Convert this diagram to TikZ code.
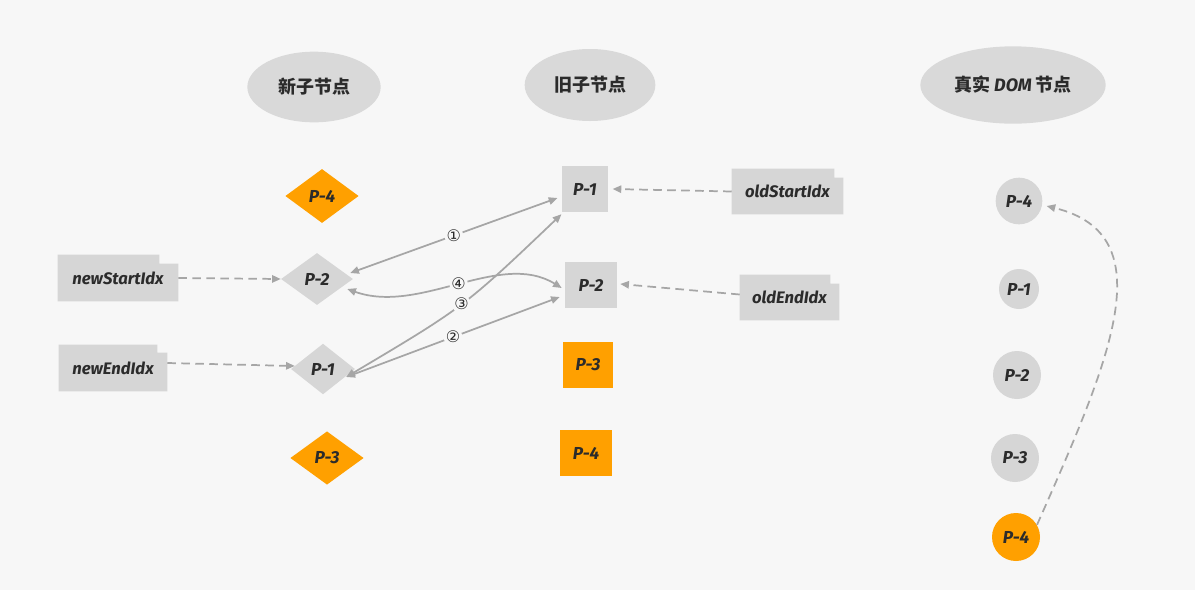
\documentclass[tikz,border=0pt]{standalone}
\usepackage{fontspec}
\setmainfont{Fira Sans}
\newfontfamily\cjk{Noto Sans CJK SC}
\newfontfamily\numfont{DejaVu Sans}
\usetikzlibrary{arrows.meta,shapes.geometric,backgrounds}

\definecolor{bg}{HTML}{F7F7F7}
\definecolor{boxgray}{HTML}{D6D6D6}
\definecolor{headgray}{HTML}{D9D9D9}
\definecolor{hot}{HTML}{FFA000}
\definecolor{ink}{HTML}{2B2B2B}
\definecolor{wire}{HTML}{A6A6A6}

% notched index tag drawn behind a text node: node, notch width, notch depth
\newcommand\tagshape[3]{%
  \fill[boxgray] (#1.south west) -- (#1.north west)
    -- ([xshift=-#2]#1.north east) -- ([xshift=-#2,yshift=-#3]#1.north east)
    -- ([yshift=-#3]#1.north east) -- (#1.south east) -- cycle;}

\tikzset{
  hand/.style={font=\fontsize{13}{15}\selectfont\bfseries\itshape, text=ink},
  head/.style={ellipse, fill=headgray, inner sep=0pt, text=ink,
    font=\fontsize{13.5}{16}\selectfont\cjk\bfseries},
  diam/.style={diamond, fill=boxgray, inner sep=0pt, hand},
  sq/.style={rectangle, fill=boxgray, inner sep=0pt, hand},
  dom/.style={circle, fill=boxgray, inner sep=0pt, hand},
  hotfill/.style={fill=hot},
  tagtext/.style={rectangle, inner sep=0pt,
    font=\fontsize{12.5}{14}\selectfont\bfseries\itshape, text=ink},
  link/.style={draw=wire, line width=1.3pt, {Triangle[length=6.5pt,width=5.5pt]}-{Triangle[length=6.5pt,width=5.5pt]}},
  ptr/.style={draw=wire, line width=1.3pt, dash pattern=on 6.5pt off 4pt,
    -{Triangle[length=6.5pt,width=5.5pt]}},
  num/.style={circle, fill=bg, inner sep=0pt,
    font=\fontsize{12}{14}\selectfont\numfont, text=ink}
}

\begin{document}
\begin{tikzpicture}[x=0.75pt, y=-0.75pt]
\begin{scope}[on background layer]
  \fill[bg] (0,0) rectangle (1195,590);
\end{scope}
\useasboundingbox (0,0) rectangle (1195,590);

% column headings
\node[head, minimum width=100pt, minimum height=53pt] (hnew) at (314,87) {新子节点};
\node[head, minimum width=98pt, minimum height=54pt] (hold) at (590,85) {旧子节点};
\node[head, minimum width=139pt, minimum height=58pt] (hdom) at (1013,85)
  {真实 {\fontspec{Fira Sans}\bfseries\itshape DOM} 节点};

% new children
\node[diam, hotfill, minimum width=55pt, minimum height=40.5pt] (np4) at (322,196) {P-4};
\node[diam, minimum width=54pt, minimum height=39pt] (np2) at (317,279) {P-2};
\node[diam, minimum width=48pt, minimum height=38pt] (np1) at (323,369) {P-1};
\node[diam, hotfill, minimum width=55pt, minimum height=40pt] (np3) at (327,458) {P-3};

% old children
\node[sq, minimum width=35pt, minimum height=34.5pt] (op1) at (585,189) {P-1};
\node[sq, minimum width=39pt, minimum height=34.5pt] (op2) at (591,285) {P-2};
\node[sq, hotfill, minimum width=38pt, minimum height=34.5pt] (op3) at (588,365) {P-3};
\node[sq, hotfill, minimum width=39pt, minimum height=35pt] (op4) at (586,453) {P-4};

% real DOM nodes
\node[dom, minimum size=35pt] (d1) at (1019,201) {P-4};
\node[dom, minimum size=30pt] (d2) at (1019,289) {P-1};
\node[dom, minimum size=36pt] (d3) at (1017,375) {P-2};
\node[dom, minimum size=36pt] (d4) at (1015,458) {P-3};
\node[dom, hotfill, minimum size=36pt] (d5) at (1016,537) {P-4};

% index pointers
\node[tagtext, minimum width=90pt, minimum height=34.5pt] (nsi) at (118,278) {newStartIdx};
\node[tagtext, minimum width=81pt, minimum height=34.5pt] (nei) at (113,368) {newEndIdx};
\node[tagtext, minimum width=83.25pt, minimum height=33.75pt] (osi) at (787.5,191.5) {oldStartIdx};
\node[tagtext, minimum width=74.25pt, minimum height=33.75pt] (oei) at (789.5,297.5) {oldEndIdx};
\begin{scope}[on background layer]
  \tagshape{nsi}{14.25pt}{6.75pt}
  \tagshape{nei}{7.5pt}{6pt}
  \tagshape{osi}{6.75pt}{6.75pt}
  \tagshape{oei}{6.75pt}{6.75pt}
\end{scope}

% dashed pointer arrows
\draw[ptr] (nsi.east) -- (np2.west);
\draw[ptr] ([shift={(0,-5)}]nei.east) -- ([shift={(4,-3)}]np1.west);
\draw[ptr] (osi.west) -- ([shift={(4,0)}]op1.east);
\draw[ptr] ([shift={(0,-3)}]oei.west) -- ([shift={(3,-1)}]op2.east);

% comparisons
\draw[link] ([shift={(-3,-6)}]np2.east) -- node[num, pos=0.5] {①} ([shift={(-4,9)}]op1.west);
\draw[link] ([shift={(-9,8)}]np1.east) -- node[num, pos=0.5] {②} ([shift={(-5,12)}]op2.west);
\draw[link] ([shift={(-9,8)}]np1.east) .. controls (464,307) .. node[num, pos=0.5] {③} ([shift={(0,2)}]op1.south west);
\draw[link] ([shift={(-6,10)}]np2.east) .. controls (420,315) and (500,250) .. node[num, pos=0.5] {④} ([shift={(-3,3)}]op2.west);

% move of P-4 in the real DOM
\draw[ptr] (d5.30) .. controls (1110,360) and (1165,235) .. ([shift={(4,5)}]d1.east);
\end{tikzpicture}
\end{document}
